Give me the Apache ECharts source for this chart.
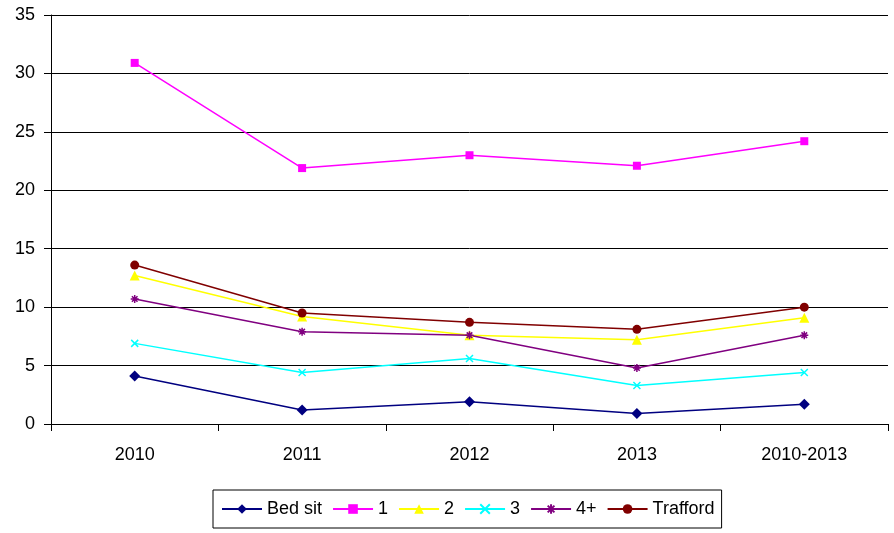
<!DOCTYPE html>
<html>
<head>
<meta charset="utf-8">
<script src="https://cdn.jsdelivr.net/npm/echarts@6/dist/echarts.min.js"></script>
<style>
  html, body { margin: 0; padding: 0; background: #fff; }
  #chart { width: 894px; height: 533px; }
</style>
</head>
<body>
<div id="chart"></div>
<script>
const years = ['2010', '2011', '2012', '2013', '2010-2013']

const bedSit = [4.1, 1.2, 1.9, 0.9, 1.7]
const oneBed = [30.9, 21.9, 23.0, 22.1, 24.2]
const twoBed = [12.7, 9.2, 7.6, 7.2, 9.1]
const threeBed = [6.9, 4.4, 5.6, 3.3, 4.4]
const fourPlus = [10.7, 7.9, 7.6, 4.8, 7.6]
const trafford = [13.6, 9.5, 8.7, 8.1, 10.0]

const crossPath = 'path://M0,0L10,10M10,0L0,10'
const starPath = 'path://M0,5L10,5M5,0L5,10M1.5,1.5L8.5,8.5M8.5,1.5L1.5,8.5'

const mkSeries = (name, data, color, symbol, size, stroke) => ({
  name,
  type: 'line',
  data,
  symbol,
  symbolSize: size,
  showAllSymbol: true,
  lineStyle: { color, width: 1.5 },
  itemStyle: stroke
    ? { color, borderColor: color, borderWidth: 1.5 }
    : { color },
  emphasis: { disabled: true },
  z: 3
})

const option = {
  animation: false,
  backgroundColor: '#fff',
  textStyle: { fontFamily: 'Liberation Sans, Arial, sans-serif' },
  grid: { left: 51, right: 6, top: 15, bottom: 109 },
  xAxis: {
    type: 'category',
    data: years,
    boundaryGap: true,
    axisLine: { lineStyle: { color: '#000', width: 1 } },
    axisTick: { show: true, length: 7, lineStyle: { color: '#000' } },
    axisLabel: { color: '#000', fontSize: 18, margin: 22 }
  },
  yAxis: {
    type: 'value',
    min: 0,
    max: 35,
    interval: 5,
    axisLine: { show: true, lineStyle: { color: '#000', width: 1 } },
    axisTick: { show: true, length: 7, lineStyle: { color: '#000' } },
    axisLabel: { color: '#000', fontSize: 18, margin: 16 },
    splitLine: { lineStyle: { color: '#000', width: 1 } }
  },
  legend: {
    left: 213,
    top: 490,
    width: 540,
    padding: [10, 7, 10, 8],
    itemGap: 10,
    itemWidth: 40,
    itemHeight: 12,
    borderColor: '#000',
    borderWidth: 1,
    textStyle: { color: '#000', fontSize: 18, fontFamily: 'Liberation Sans, Arial, sans-serif' },
    data: ['Bed sit', '1', '2', '3', '4+', 'Trafford']
  },
  series: [
    mkSeries('Bed sit', bedSit, '#000080', 'diamond', 11),
    mkSeries('1', oneBed, '#ff00ff', 'rect', 8),
    mkSeries('2', twoBed, '#ffff00', 'triangle', 10),
    mkSeries('3', threeBed, '#00ffff', crossPath, 7, true),
    mkSeries('4+', fourPlus, '#800080', starPath, 8, true),
    mkSeries('Trafford', trafford, '#800000', 'circle', 9)
  ]
}

const chart = echarts.init(document.getElementById('chart'))
chart.setOption(option)
</script>
</body>
</html>
